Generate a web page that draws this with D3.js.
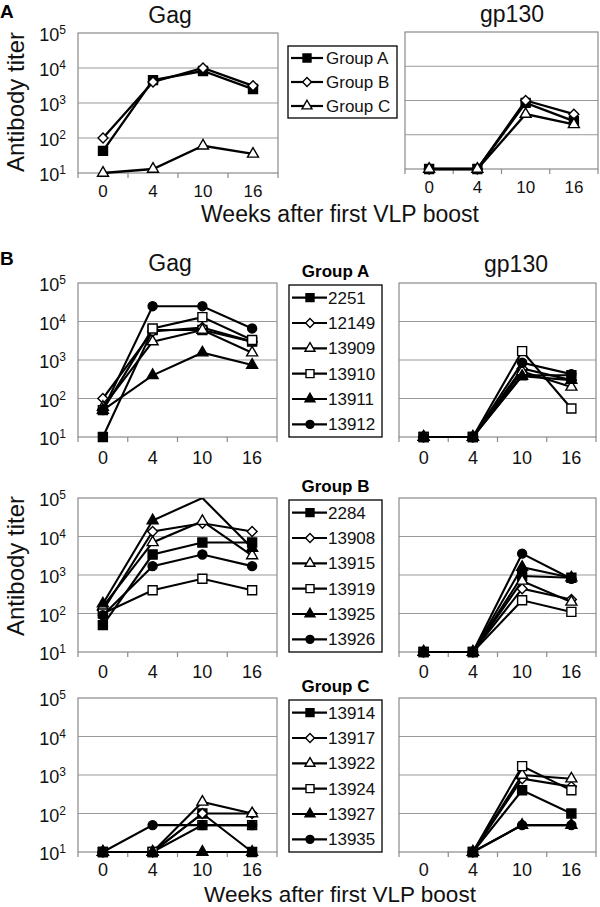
<!DOCTYPE html>
<html>
<head>
<meta charset="utf-8">
<script src="https://cdn.jsdelivr.net/npm/d3@7"></script>
<style>
  html, body { margin: 0; padding: 0; background: #fff; }
  svg { display: block; font-family: "Liberation Sans", Arial, sans-serif; }
</style>
</head>
<body>
<svg id="chart" width="600" height="907"></svg>
<script>
// ---------------- DATA ----------------
const weeks = ["0", "4", "10", "16"];
const yTickValues = [10, 100, 1000, 10000, 100000];
const yTickExponents = ["1", "2", "3", "4", "5"];

// Panel A (group means)
const groupNames = ["Group A", "Group B", "Group C"];
const groupMarkers = ["squareFilled", "diamondOpen", "triangleOpen"];
const gagGroups = [
  [43, 4500, 8200, 2500],
  [100, 4000, 10000, 3100],
  [10, 13, 60, 35]
];
const gp130Groups = [
  [10, 10, 850, 250],
  [10, 10, 1000, 400],
  [10, 10, 400, 200]
];

// Panel B (individual animals)
const animalMarkers = ["squareFilled", "diamondOpen", "triangleOpen", "squareOpen", "triangleFilled", "circleFilled"];

const animalsA = ["2251", "12149", "13909", "13910", "13911", "13912"];
const gagA = [
  [10, 6000, 6000, 3000],
  [100, 5500, 7000, 3000],
  [60, 3000, 6000, 1550],
  [50, 6600, 13000, 3300],
  [50, 400, 1550, 740],
  [50, 25000, 25000, 6600]
];
const gp130A = [
  [10, 10, 400, 400],
  [10, 10, 600, 300],
  [10, 10, 500, 200],
  [10, 10, 1700, 55],
  [10, 10, 380, 300],
  [10, 10, 850, 430]
];

const animalsB = ["2284", "13908", "13915", "13919", "13925", "13926"];
const gagB = [
  [50, 3400, 7000, 7000],
  [120, 13500, 22000, 13500],
  [150, 7000, 25000, 3200],
  [100, 400, 800, 400],
  [180, 26000, 100000, 5000],
  [90, 1700, 3400, 1700]
];
const gp130B = [
  [10, 10, 940, 850],
  [10, 10, 440, 230],
  [10, 10, 700, 200],
  [10, 10, 220, 110],
  [10, 10, 1600, 850],
  [10, 10, 3600, 800]
];

const animalsC = ["13914", "13917", "13922", "13924", "13927", "13935"];
const gagC = [
  [10, 10, 100, 10],
  [10, 10, 100, 100],
  [10, 10, 200, 100],
  [10, 10, 50, 50],
  [10, 10, 10, 10],
  [10, 50, 50, 50]
];
const gp130C = [
  [null, 10, 400, 100],
  [null, 10, 800, 500],
  [null, 10, 1000, 800],
  [null, 10, 1700, 400],
  [null, 10, 50, 50],
  [null, 10, 50, 50]
];

// ---------------- DRAWING ----------------
const svg = d3.select("#chart");
const GRID = "#9a9a9a";
const FRAME = "#8a8a8a";
let clipId = 0;

function markerPath(kind, s) {
  if (kind.startsWith("square")) return d3.symbol(d3.symbolSquare, s * s)();
  if (kind.startsWith("diamond")) return d3.symbol(d3.symbolSquare, (s * 0.78) * (s * 0.78))();
  if (kind.startsWith("triangle")) return d3.symbol(d3.symbolTriangle, Math.sqrt(3) / 4 * (s + 2) * (s + 2))();
  return d3.symbol(d3.symbolCircle, Math.PI * (s / 2) * (s / 2))();
}
function drawMarker(g, kind, cx, cy, s) {
  const filled = kind.endsWith("Filled");
  const rot = kind.startsWith("diamond") ? " rotate(45)" : "";
  g.append("path")
    .attr("d", markerPath(kind, s))
    .attr("transform", `translate(${cx},${cy})${rot}`)
    .attr("fill", filled ? "#000" : "#fff")
    .attr("stroke", "#000")
    .attr("stroke-width", 1.4);
}

function drawPlot(box, series, markers, opts) {
  const x = d3.scaleBand().domain(weeks).range([box.x0, box.x1]);
  const y = d3.scaleLog().domain([10, 100000]).range([box.y1, box.y0]);
  const yMax = y.domain()[1];
  const cx = w => x(w) + x.bandwidth() / 2;
  const g = svg.append("g");

  // grid lines
  g.selectAll("line.grid").data(yTickValues.slice(1, -1)).enter().append("line")
    .attr("x1", box.x0).attr("x2", box.x1)
    .attr("y1", d => y(d)).attr("y2", d => y(d))
    .attr("stroke", GRID).attr("stroke-width", 1.2);
  // frame
  g.append("rect")
    .attr("x", box.x0).attr("y", box.y0)
    .attr("width", box.x1 - box.x0).attr("height", box.y1 - box.y0)
    .attr("fill", "none").attr("stroke", FRAME).attr("stroke-width", 1.2);

  // bottom axis ticks at band boundaries
  const bounds = weeks.map(w => x(w)).concat([x.range()[1]]);
  g.selectAll("line.tick").data(bounds).enter().append("line")
    .attr("x1", d => d).attr("x2", d => d)
    .attr("y1", box.y1).attr("y2", box.y1 + 5)
    .attr("stroke", FRAME).attr("stroke-width", 1.2);
  // x labels
  const xa = g.append("g").attr("transform", `translate(0,${box.y1})`)
    .call(d3.axisBottom(x).tickSize(0).tickPadding(0));
  xa.select(".domain").remove();
  xa.selectAll("text")
    .attr("y", opts.xLabelOffset).attr("dy", null)
    .attr("font-size", opts.xFont).attr("fill", "#111")
    .attr("font-family", "Liberation Sans, Arial, sans-serif");

  // y labels
  if (opts.yLabels) {
    yTickValues.forEach((v, i) => {
      const t = g.append("text")
        .attr("x", box.x0 - 12).attr("y", y(v) + 8)
        .attr("text-anchor", "end")
        .attr("font-size", 18).attr("fill", "#111");
      t.append("tspan").text("10");
      t.append("tspan").attr("font-size", 12).attr("dy", -7).text(yTickExponents[i]);
    });
  }

  // clip: cut off above plot top only
  const id = "clip" + (clipId++);
  svg.append("clipPath").attr("id", id).append("rect")
    .attr("x", box.x0 - 15).attr("y", box.y0)
    .attr("width", box.x1 - box.x0 + 30).attr("height", box.y1 - box.y0 + 20);
  const dg = svg.append("g").attr("clip-path", `url(#${id})`);

  const line = d3.line()
    .defined(d => d.v != null)
    .x(d => cx(d.w)).y(d => y(d.v));
  series.forEach((vals, si) => {
    const pts = weeks.map((w, i) => ({ w, v: vals[i] }));
    dg.append("path").attr("d", line(pts))
      .attr("fill", "none").attr("stroke", "#000")
      .attr("stroke-width", opts.lineWidth).attr("stroke-linejoin", "miter");
    // markers at or beyond the axis maximum are not shown (off-scale)
    pts.filter(p => p.v != null && p.v < yMax).forEach(p => {
      drawMarker(dg, markers[si], cx(p.w), y(p.v), opts.markerSize);
    });
  });
}

function drawLegend(box, names, markers, opts) {
  const g = svg.append("g");
  g.append("rect")
    .attr("x", box.x0).attr("y", box.y0)
    .attr("width", box.x1 - box.x0).attr("height", box.y1 - box.y0)
    .attr("fill", "#fff").attr("stroke", "#000").attr("stroke-width", 1.3);
  if (opts.title) {
    g.append("text").attr("x", (box.x0 + box.x1) / 2).attr("y", box.y0 - 8)
      .attr("text-anchor", "middle").attr("font-weight", "bold")
      .attr("font-size", 17).attr("fill", "#000").text(opts.title);
  }
  const n = names.length;
  const step = (box.y1 - box.y0) / n;
  names.forEach((name, i) => {
    const yy = box.y0 + step / 2 + i * step;
    g.append("line").attr("x1", box.x0 + 3).attr("x2", opts.lineEnd)
      .attr("y1", yy).attr("y2", yy)
      .attr("stroke", "#000").attr("stroke-width", 2.2);
    drawMarker(g, markers[i], opts.markerX, yy, opts.markerSize);
    g.append("text").attr("x", opts.textX).attr("y", yy + 6)
      .attr("font-size", 17).attr("fill", "#111").text(name);
  });
}

function text(x, y, s, size, extra) {
  const t = svg.append("text").attr("x", x).attr("y", y)
    .attr("font-size", size).attr("fill", "#111").text(s);
  if (extra) extra(t);
  return t;
}

// ----- Panel A -----
text(0, 18, "A", 19, t => t.attr("font-weight", "bold").attr("fill", "#000"));
text(170, 23, "Gag", 23, t => t.attr("text-anchor", "middle"));
text(512, 22, "gp130", 23, t => t.attr("text-anchor", "middle"));
text(0, 0, "Antibody titer", 24, t => t.attr("text-anchor", "middle")
  .attr("transform", "translate(24,102) rotate(-90)"));
text(340, 222, "Weeks after first VLP boost", 23, t => t.attr("text-anchor", "middle"));

const optsA = { yLabels: true, xLabelOffset: 24, xFont: 17, lineWidth: 2.3, markerSize: 9 };
drawPlot({ x0: 78, x1: 278, y0: 33, y1: 173 }, gagGroups, groupMarkers, optsA);
drawPlot({ x0: 405, x1: 598, y0: 32, y1: 169 }, gp130Groups, groupMarkers, Object.assign({}, optsA, { yLabels: false }));
drawLegend({ x0: 288, x1: 397, y0: 46, y1: 118 }, groupNames, groupMarkers,
  { lineEnd: 323, markerX: 307, textX: 326, markerSize: 8 });

// ----- Panel B -----
text(0, 265, "B", 19, t => t.attr("font-weight", "bold").attr("fill", "#000"));
text(170, 271, "Gag", 23, t => t.attr("text-anchor", "middle"));
text(516, 272, "gp130", 23, t => t.attr("text-anchor", "middle"));
text(0, 0, "Antibody titer", 24, t => t.attr("text-anchor", "middle")
  .attr("transform", "translate(24,566) rotate(-90)"));
text(340, 902, "Weeks after first VLP boost", 22.5, t => t.attr("text-anchor", "middle"));

const rows = [
  { top: 283, bottom: 437, title: "Group A", names: animalsA, gag: gagA, gp: gp130A, xOff: 27 },
  { top: 498, bottom: 652, title: "Group B", names: animalsB, gag: gagB, gp: gp130B, xOff: 26 },
  { top: 698, bottom: 852, title: "Group C", names: animalsC, gag: gagC, gp: gp130C, xOff: 24 }
];
rows.forEach(r => {
  const optsB = { yLabels: true, xLabelOffset: r.xOff, xFont: 18, lineWidth: 2.1, markerSize: 9 };
  drawPlot({ x0: 78, x1: 277, y0: r.top, y1: r.bottom }, r.gag, animalMarkers, optsB);
  drawPlot({ x0: 399, x1: 596, y0: r.top, y1: r.bottom }, r.gp, animalMarkers, Object.assign({}, optsB, { yLabels: false }));
  drawLegend({ x0: 289, x1: 382, y0: r.top + 2, y1: r.bottom }, r.names, animalMarkers,
    { title: r.title, lineEnd: 327, markerX: 310, textX: 328, markerSize: 8 });
});
</script>
</body>
</html>
